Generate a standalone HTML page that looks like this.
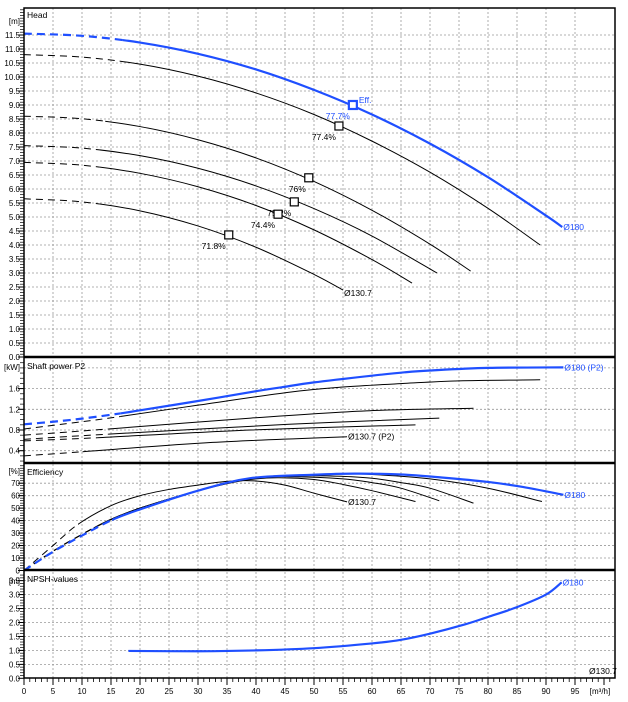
<!DOCTYPE html>
<html><head><meta charset="utf-8"><style>
html,body{margin:0;padding:0;background:#fff;}
svg{display:block;font-family:"Liberation Sans",sans-serif;}
</style></head><body>
<svg id="c" width="628" height="702" viewBox="0 0 628 702" xmlns="http://www.w3.org/2000/svg"></svg>
<script>
// ---- data ----
const xTicks=[0,5,10,15,20,25,30,35,40,45,50,55,60,65,70,75,80,85,90,95];
// Head curves [Q,H]
const headQ180=[0,10,20,30,40,50,60,70,80,90,92.8];
const headH180=[11.55,11.47,11.23,10.83,10.27,9.54,8.66,7.62,6.42,5.05,4.64];
const headQ1=[0,10,20,30,40,50,60,70,80,89];
const headH1=[10.8,10.71,10.46,10.03,9.43,8.66,7.71,6.6,5.31,4.0];
const headQ2=[0,10,20,30,40,50,60,70,77];
const headH2=[8.6,8.51,8.23,7.76,7.11,6.27,5.24,4.03,3.07];
const headQ3=[0,10,20,30,40,50,60,71.2];
const headH3=[7.55,7.46,7.19,6.74,6.11,5.3,4.32,3.0];
const headQ4=[0,10,20,30,40,50,60,66.9];
const headH4=[6.95,6.85,6.56,6.08,5.41,4.54,3.48,2.64];
const headQ5=[0,10,20,30,40,50,55];
const headH5=[5.65,5.54,5.22,4.68,3.92,2.95,2.39];
// Best efficiency points
const bepQ=[56.7,54.3,49.1,46.6,43.8,35.3];
const bepH=[9.0,8.25,6.4,5.54,5.1,4.36];
const bepLabels=["77.7%","77.4%","76%","75.2%","74.4%","71.8%"];
// Power curves
const powQ180=[0,5,10,16.6,20,30,40,44.4,50,60,65.6,70,80,93];
const powP180=[0.91,0.96,1.02,1.12,1.18,1.36,1.55,1.625,1.72,1.85,1.915,1.95,2.0,2.01];
const powQ1=[0,10,16.6,30,45.7,55,65.6,75,89];
const powP1=[0.82,0.96,1.06,1.28,1.53,1.63,1.70,1.75,1.77];
const powQ2=[0,14.6,39.1,59,77.5];
const powP2=[0.70,0.82,1.03,1.17,1.22];
const powQ3=[0,14.6,45.7,71.6];
const powP3=[0.62,0.72,0.91,1.03];
const powQ4=[0,12.6,39.1,67.5];
const powP4=[0.59,0.65,0.80,0.90];
const powQ5=[0,10.1,32.5,55.7];
const powP5=[0.30,0.38,0.56,0.67];
// Efficiency curves
const effQ180=[0,5,10,15.2,20,30,39,50,57,65,72,80,86,93];
const effE180=[0,15,28,40.6,49,64,74,76.8,77.7,77,74.6,71,67,60.7];
const effQ1=[0,5,10,15,20,30,40,50,54,60,70,80,89.3];
const effE1=[0,15.5,29,41,50,64,74.5,77,77.4,77,73.5,66,55.3];
const effQ2=[0,5,10,15,20,30,40,49,55,60,65,70,77.5];
const effE2=[0,15.5,29,41,50,64,74.5,76,75.5,74,70.5,66,54];
const effQ3=[0,5,10,15,20,30,40,46.6,55,60,65,71.6];
const effE3=[0,15.5,29,41,50,64,74,75.2,73.5,70.5,66,55.9];
const effQ4=[0,5,10,15,20,30,35,40,44,50,55,60,67.5];
const effE4=[0,15.5,29,41,50,64,70,73.5,74.4,73,69,64,55.3];
const effQ5=[0,5,9.3,15,20,25,30,35,40,45,50,55.7];
const effE5=[0,20,37,52,60,65,68.5,71.5,71.8,68.5,62,55];
// NPSH
const npshQ=[18,30,40,50,60,65,70,76,80,85,90,92.7];
const npshV=[0.98,0.97,1.0,1.08,1.25,1.38,1.6,1.93,2.2,2.55,3.0,3.44];

// ---- scales ----
const X=q=>24+5.8*q;
const YH=v=>357-28*v;
const YP=v=>471.4-51.75*v;
const YE=v=>570.5-1.247*v;
const YN=v=>678.3-27.9*v;
const BLUE="#1f4fff";
const svg=document.getElementById('c');
const NS="http://www.w3.org/2000/svg";
function mk(tag,attrs,parent){const e=document.createElementNS(NS,tag);for(const k in attrs)e.setAttribute(k,attrs[k]);(parent||svg).appendChild(e);return e;}
function txt(x,y,s,opt,parent){const t=mk('text',Object.assign({x:x,y:y,'font-size':8.5,fill:'#000'},opt||{}),parent);t.textContent=s;return t;}

const panels=[
 {top:8,bot:357,Y:YH,grid:[],name:'head'},
 {top:357,bot:463,Y:YP,name:'power'},
 {top:463,bot:570,Y:YE,name:'efficiency'},
 {top:570,bot:678,Y:YN,name:'npsh'}];
// grid values
const headTicks=[];for(let i=0;i<=23;i++)headTicks.push(i*0.5);
const powTicks=[0.4,0.8,1.2,1.6,2.0];
const effTicks=[0,10,20,30,40,50,60,70];
const npshTicks=[0,0.5,1.0,1.5,2.0,2.5,3.0,3.5];

const gGrid=mk('g',{});

function hgrid(vals,Y,top,bot){vals.forEach(v=>{const y=Y(v);if(y>top+1&&y<bot-1)mk('line',{x1:24,x2:615,y1:y,y2:y,stroke:'#999','stroke-width':0.8,'stroke-dasharray':'2,2'},gGrid);});}
hgrid(headTicks,YH,8,357);hgrid(powTicks,YP,357,463);hgrid(effTicks,YE,463,570);hgrid(npshTicks,YN,570,678);
xTicks.forEach(q=>{if(q>0)mk('line',{x1:X(q),x2:X(q),y1:8,y2:678,stroke:'#999','stroke-width':0.8,'stroke-dasharray':'2,2'},gGrid);});

// axes labels
const gAx=mk('g',{});
function yLabels(vals,Y,dec,top,bot){vals.forEach(v=>{const y=Y(v);if(y<top+4||y>bot+1)return;mk('line',{x1:18,x2:24,y1:y,y2:y,stroke:'#000','stroke-width':1},gAx);txt(20,y+3,v.toFixed(dec),{'text-anchor':'end','font-size':8},gAx);});}
yLabels(headTicks,YH,1,8,357);yLabels(powTicks.slice(0,4),YP,1,357,463);yLabels(effTicks,YE,0,463,570);yLabels(npshTicks,YN,1,570,678);
// minor ticks
function minor(step,from,to,Y,top,bot){for(let v=from;v<=to+1e-9;v+=step){const y=Y(v);if(y>top&&y<bot)mk('line',{x1:20,x2:24,y1:y,y2:y,stroke:'#000','stroke-width':0.7},gAx);}}
minor(0.1,0,12.4,YH,8,357);minor(0.1,0.2,2.1,YP,357,463);minor(2,0,84,YE,463,570);minor(0.1,0,3.7,YN,570,678);
txt(20,24,'[m]',{'text-anchor':'end','font-size':8},gAx);
txt(20,370,'[kW]',{'text-anchor':'end','font-size':8},gAx);
txt(20,474,'[%]',{'text-anchor':'end','font-size':8},gAx);
txt(20,584,'[m]',{'text-anchor':'end','font-size':8},gAx);

// x axis
const gX=mk('g',{});
for(let q=0;q<=101;q++){const x=X(q);const maj=q%5===0;mk('line',{x1:x,x2:x,y1:678,y2:maj?685:682,stroke:'#000','stroke-width':maj?1:0.8},gX);}
xTicks.forEach(q=>txt(X(q),694,String(q),{'text-anchor':'middle','font-size':8},gX));
txt(600,694,'[m³/h]',{'text-anchor':'middle','font-size':8},gX);

// panel titles
txt(27,18,'Head',{'font-size':8.5,});
txt(27,369,'Shaft power P2',{'font-size':8.5,});
txt(27,475,'Efficiency',{'font-size':8.5,});
txt(27,582,'NPSH-values',{'font-size':8.5,});

// clip paths for dashed/solid split
const defs=mk('defs',{});
let cid=0;
function clip(x0,x1){const id='cp'+(cid++);const c=mk('clipPath',{id:id},defs);mk('rect',{x:x0,y:0,width:x1-x0,height:702},c);return 'url(#'+id+')';}
function pathD(qs,vs,Y){const p=qs.map((q,i)=>[X(q),Y(vs[i])]);let d='M'+p[0][0]+','+p[0][1];
 for(let i=0;i<p.length-1;i++){const p0=p[i-1]||p[i],p1=p[i],p2=p[i+1],p3=p[i+2]||p2;
  const c1=[p1[0]+(p2[0]-p0[0])/6,p1[1]+(p2[1]-p0[1])/6],c2=[p2[0]-(p3[0]-p1[0])/6,p2[1]-(p3[1]-p1[1])/6];
  d+=' C'+c1[0].toFixed(2)+','+c1[1].toFixed(2)+' '+c2[0].toFixed(2)+','+c2[1].toFixed(2)+' '+p2[0].toFixed(2)+','+p2[1].toFixed(2);}
 return d;}
function curve(name,qs,vs,Y,dashQ,color,w){const g=mk('g',{});
 const d=pathD(qs,vs,Y);
 if(dashQ>0){const dp=mk('path',{d:d,fill:'none',stroke:color,'stroke-width':w,'stroke-dasharray':w>1.5?'8,5':'7,5','clip-path':clip(0,X(dashQ))},g);}
 mk('path',{d:d,fill:'none',stroke:color,'stroke-width':w,'clip-path':clip(X(dashQ),700)},g);return g;}

// head
curve('head-curve-d130-7',headQ5,headH5,YH,13,'#000',1);
curve('head-curve-4',headQ4,headH4,YH,13,'#000',1);
curve('head-curve-3',headQ3,headH3,YH,13,'#000',1);
curve('head-curve-2',headQ2,headH2,YH,14,'#000',1);
curve('head-curve-1',headQ1,headH1,YH,16.5,'#000',1);
curve('head-curve-d180',headQ180,headH180,YH,17,BLUE,2.2);
// power
curve('power-curve-d130-7',powQ5,powP5,YP,10.1,'#000',1);
curve('power-curve-4',powQ4,powP4,YP,12.6,'#000',1);
curve('power-curve-3',powQ3,powP3,YP,14.6,'#000',1);
curve('power-curve-2',powQ2,powP2,YP,14.6,'#000',1);
curve('power-curve-1',powQ1,powP1,YP,16.6,'#000',1);
curve('power-curve-d180',powQ180,powP180,YP,16.6,BLUE,2.2);
// efficiency
curve('efficiency-curve-d130-7',effQ5,effE5,YE,9.3,'#000',1);
curve('efficiency-curve-4',effQ4,effE4,YE,12,'#000',1);
curve('efficiency-curve-3',effQ3,effE3,YE,12,'#000',1);
curve('efficiency-curve-2',effQ2,effE2,YE,12,'#000',1);
curve('efficiency-curve-1',effQ1,effE1,YE,12,'#000',1);
curve('efficiency-curve-d180',effQ180,effE180,YE,15.2,BLUE,2.2);
// npsh
curve('npsh-curve-d180',npshQ,npshV,YN,0,BLUE,2.2);

// BEP markers
bepQ.forEach((q,i)=>{const x=X(q),y=YH(bepH[i]);const blue=i===0;
 const r=mk('rect',{x:x-4,y:y-4,width:8,height:8,fill:'#fff',stroke:blue?BLUE:'#000','stroke-width':blue?2.2:1.2});
 
 
 const t=txt(x-3,y+14,bepLabels[i],{'text-anchor':'end','font-size':8.5,fill:blue?BLUE:'#000'});
 
 
});
txt(X(bepQ[0])+6,YH(bepH[0])-2,'Eff.',{'font-size':8.5,fill:BLUE,});

// curve labels
txt(X(92.8)+1,YH(4.64)+3,'Ø180',{'font-size':8.5,fill:BLUE,});
txt(X(55)+1,YH(2.39)+6,'Ø130.7',{'font-size':8.5,});
txt(X(93)+1,YP(2.01)+3,'Ø180 (P2)',{'font-size':8.5,fill:BLUE,});
txt(X(55.7)+1,YP(0.67)+3,'Ø130.7 (P2)',{'font-size':8.5,});
txt(X(93)+1,YE(60.7)+3,'Ø180',{'font-size':8.5,fill:BLUE,});
txt(X(55.7)+1,YE(55)+3,'Ø130.7',{'font-size':8.5,});
txt(X(92.7)+1,YN(3.44)+3,'Ø180',{'font-size':8.5,fill:BLUE,});
txt(589,674,'Ø130.7',{'font-size':8.5,});

// borders
mk('rect',{x:24,y:8,width:591,height:670,fill:'none',stroke:'#000','stroke-width':1.5,});
[357,463,570].forEach(y=>{const l=mk('line',{x1:24,x2:615,y1:y,y2:y,stroke:'#000','stroke-width':2.5});
 
 });
</script>
</body></html>
